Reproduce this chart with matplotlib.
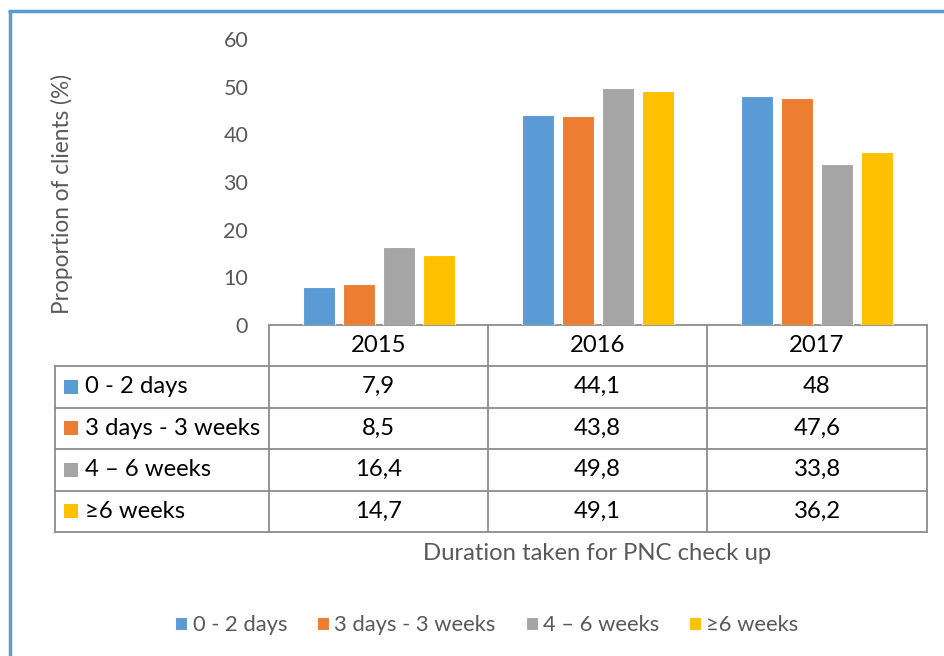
import matplotlib
matplotlib.use("Agg")
import matplotlib.pyplot as plt
from matplotlib.patches import Rectangle
import numpy as np

plt.rcParams['font.family'] = ['Lato', 'DejaVu Sans']

years = ['2015', '2016', '2017']
series = ['0 - 2 days', '3 days - 3 weeks', '4 \u2013 6 weeks', '\u22656 weeks']
days_0_2 = [7.9, 44.1, 48]
days3_weeks3 = [8.5, 43.8, 47.6]
weeks_4_6 = [16.4, 49.8, 33.8]
weeks_6plus = [14.7, 49.1, 36.2]
values = [days_0_2, days3_weeks3, weeks_4_6, weeks_6plus]
colors = ['#5B9BD5', '#ED7D31', '#A5A5A5', '#FFC000']
yticks = [0, 10, 20, 30, 40, 50, 60]

W, H = 944, 656
fig = plt.figure(figsize=(W / 100, H / 100), dpi=100)

# overlay in pixel coords for frame + data table
ov = fig.add_axes([0, 0, 1, 1], zorder=0)
ov.set_xlim(0, W)
ov.set_ylim(H, 0)
ov.axis('off')

# main bar axes (plot area 269..927 px, 39..325 px)
x0, x1, ytop, ybot = 269, 927, 39, 325
ax = fig.add_axes([x0 / W, 1 - ybot / H, (x1 - x0) / W, (ybot - ytop) / H], zorder=2)
ax.patch.set_alpha(0)

x = np.arange(len(years))
bw = 0.146
step = 0.1824
bars = []
for i, (vals, c) in enumerate(zip(values, colors)):
    b = ax.bar(x + (i - 1.5) * step, vals, width=bw, color=c,
               edgecolor='white', linewidth=0.8, label=series[i])
    bars.append(b)

ax.set_xlim(-0.5, len(years) - 0.5)
ax.set_ylim(0, 60)
ax.set_yticks(yticks)
ax.set_xticks([])
ax.tick_params(axis='y', length=0, pad=15, labelsize=15.5, labelcolor='#595959')
for s in ax.spines.values():
    s.set_visible(False)

fig.text(62 / W, 1 - 194 / H, 'Proportion of clients (%)', rotation=90,
         ha='center', va='center', fontsize=16.3, color='#595959')

# frame (blue left and top border)
ov.plot([9.5, 9.5], [11, H], color='#5B9BD5', lw=2.5, solid_capstyle='butt')
ov.plot([8, W], [11, 11], color='#5B9BD5', lw=2.5, solid_capstyle='butt')

# data table
lc = '#8C8C8C'
lw = 1.3
col_edges = [x0, 488, 707, x1]
row_edges = [325, 366, 407.5, 449, 490.5, 531.5]
lab_left = 55
ov.plot([x0, x1], [row_edges[0]] * 2, color=lc, lw=lw)
for yy in row_edges[1:]:
    ov.plot([lab_left, x1], [yy, yy], color=lc, lw=lw)
for xx in col_edges:
    ov.plot([xx, xx], [row_edges[0], row_edges[-1]], color=lc, lw=lw)
ov.plot([lab_left, lab_left], [row_edges[1], row_edges[-1]], color=lc, lw=lw)

for j, yr in enumerate(years):
    cx = (col_edges[j] + col_edges[j + 1]) / 2
    cy = (row_edges[0] + row_edges[1]) / 2
    ov.text(cx, cy, yr, ha='center', va='center', fontsize=17.2, color='black')

for i, name in enumerate(series):
    cy = (row_edges[i + 1] + row_edges[i + 2]) / 2
    ov.add_patch(Rectangle((64, cy - 7), 14, 14, color=colors[i], lw=0))
    ov.text(85, cy, name, ha='left', va='center', fontsize=17.2, color='black')
    for j in range(len(years)):
        cx = (col_edges[j] + col_edges[j + 1]) / 2
        txt = f"{values[i][j]:g}".replace('.', ',')
        ov.text(cx, cy, txt, ha='center', va='center', fontsize=17.2, color='black')

fig.text(597 / W, 1 - 553 / H, 'Duration taken for PNC check up',
         ha='center', va='center', fontsize=17.2, color='#595959')

leg = fig.legend(handles=bars, labels=series, loc='center', ncol=4,
                 bbox_to_anchor=(487 / W, 1 - 625 / H), frameon=False,
                 fontsize=15.8, handlelength=0.55, handleheight=0.55,
                 handletextpad=0.25, columnspacing=1.35)
for t in leg.get_texts():
    t.set_color('#595959')

fig.savefig('out.png', dpi=100)
